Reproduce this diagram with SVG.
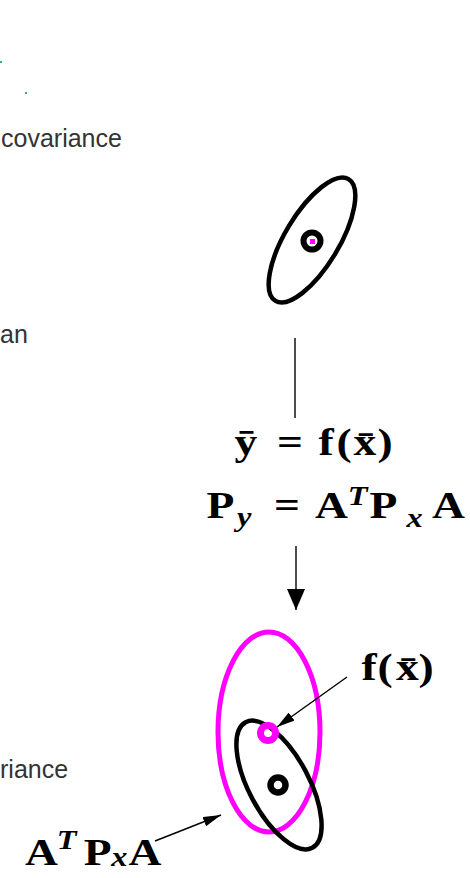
<svg xmlns="http://www.w3.org/2000/svg" width="470" height="878" viewBox="0 0 470 878">
<style>
.lbl{font-family:"Liberation Sans",Arial,sans-serif;font-size:25px;fill:#333}
.m{font-family:"Liberation Serif","Times New Roman",serif;font-weight:bold;font-size:38px;fill:#000;text-anchor:middle}
.mi{font-style:italic;font-size:27px}
.blk{fill:none;stroke:#000;stroke-width:4.5}
.mag{fill:none;stroke:#ff00ff;stroke-width:5}
.con{fill:none;stroke:#000;stroke-width:1.4}
</style>
<defs>
<marker id="ahBig" markerUnits="userSpaceOnUse" viewBox="0 0 21 18" refX="21" refY="9" markerWidth="21" markerHeight="18" orient="auto">
<path d="M0,0 L21,9 L0,18 z" fill="#000"/>
</marker>
<marker id="ahMed" markerUnits="userSpaceOnUse" viewBox="0 0 18 10" refX="18" refY="5" markerWidth="18" markerHeight="10" orient="auto">
<path d="M0,0 L18,5 L0,10 z" fill="#000"/>
</marker>
</defs>

<g id="fragments">
<rect x="0" y="61" width="2" height="2" fill="#3aa0b4"/>
<rect x="25" y="92" width="2" height="2" fill="#3aa0b4"/>
</g>

<g id="labels-left">
<text class="lbl" x="1" y="147">covariance</text>
<text class="lbl" x="0" y="343">an</text>
<text class="lbl" x="0" y="778">riance</text>
</g>

<g id="input-ellipse">
<ellipse class="blk" cx="312" cy="240" rx="71" ry="27" transform="rotate(-59 312 240)"/>
<circle cx="312" cy="241" r="8.5" fill="none" stroke="#000" stroke-width="6"/>
<rect x="310" y="239" width="5" height="5" fill="#ff00ff"/>
</g>

<g id="equations">
<text class="m" y="455" transform="scale(1.2,1)"><tspan x="205">ȳ</tspan><tspan x="241.67">=</tspan><tspan x="271.67">f</tspan><tspan x="286.67">(</tspan><tspan x="304.17">x̄</tspan><tspan x="320.83">)</tspan></text>
<text class="m" y="518" transform="scale(1.2,1)"><tspan x="183.75">P</tspan><tspan class="mi" x="203.5" y="526">y</tspan><tspan x="239.17" y="518">=</tspan><tspan x="276.25">A</tspan><tspan class="mi" x="298" y="505">T</tspan><tspan x="319.58" y="518">P</tspan><tspan class="mi" x="345.5" y="527">x</tspan><tspan x="373.75" y="518">A</tspan></text>
</g>

<g id="output-ellipses">
<ellipse class="mag" cx="269" cy="732" rx="51" ry="100"/>
<ellipse class="blk" cx="279" cy="785" rx="71" ry="30" transform="rotate(62 279 785)"/>
<circle cx="278" cy="785" r="7.5" fill="none" stroke="#000" stroke-width="6.5"/>
<circle cx="268" cy="733" r="7.5" fill="none" stroke="#ff00ff" stroke-width="7"/>
</g>

<g id="label-fx">
<text class="m" y="680" transform="scale(1.2,1)"><tspan x="307.5">f</tspan><tspan x="320.83">(</tspan><tspan x="339.58">x̄</tspan><tspan x="355">)</tspan></text>
</g>

<g id="label-ATPxA">
<text class="m" y="865" transform="scale(1.2,1)"><tspan x="34.5">A</tspan><tspan class="mi" x="55.5" y="849">T</tspan><tspan x="81.5" y="865">P</tspan><tspan class="mi" x="99.5" y="866">x</tspan><tspan x="120.83" y="865">A</tspan></text>
</g>

<g id="connectors">
<line class="con" x1="295" y1="338" x2="295" y2="418"/>
<line class="con" x1="296" y1="546" x2="296" y2="610" marker-end="url(#ahBig)"/>
<line class="con" x1="347" y1="677" x2="277" y2="727" marker-end="url(#ahMed)"/>
<line class="con" x1="155" y1="841" x2="221" y2="815" marker-end="url(#ahMed)"/>
</g>
</svg>
